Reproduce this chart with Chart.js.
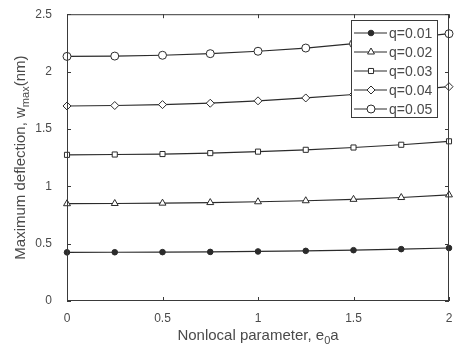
<!DOCTYPE html>
<html>
<head>
<meta charset="utf-8">
<script src="https://cdn.jsdelivr.net/npm/chart.js@4/dist/chart.umd.min.js"></script>
<style>
  html, body { margin: 0; padding: 0; background: #fff; }
  #wrap { width: 455px; height: 351px; }
</style>
</head>
<body>
<div id="wrap"><canvas id="deflectionChart" width="455" height="351"></canvas></div>
<script>
// Nonlocal parameter e0a
const e0a = [0, 0.25, 0.5, 0.75, 1, 1.25, 1.5, 1.75, 2];

// Maximum deflection (nm) for each load q
const q001 = [0.424, 0.425, 0.426, 0.428, 0.432, 0.437, 0.443, 0.452, 0.462];
const q002 = [0.848, 0.850, 0.853, 0.858, 0.865, 0.874, 0.886, 0.902, 0.925];
const q003 = [1.274, 1.277, 1.281, 1.289, 1.302, 1.318, 1.338, 1.362, 1.392];
const q004 = [1.700, 1.704, 1.712, 1.724, 1.745, 1.770, 1.800, 1.832, 1.868];
const q005 = [2.132, 2.135, 2.142, 2.156, 2.177, 2.205, 2.243, 2.285, 2.330];

const seriesLabels = ['q=0.01', 'q=0.02', 'q=0.03', 'q=0.04', 'q=0.05'];
const xTicks = [0, 0.5, 1, 1.5, 2];
const yTicks = [0, 0.5, 1, 1.5, 2, 2.5];

const lineColor = '#2b2b2b';
const textColor = '#4a4a4a';
const fontFamily = '"Liberation Sans", Arial, sans-serif';

const markers = [
  { style: 'circle', radius: 2.8, fill: lineColor },
  { style: 'triangle', radius: 4, fill: '#fff' },
  { style: 'rect', radius: 3.6, fill: '#fff' },
  { style: 'rectRot', radius: 4, fill: '#fff' },
  { style: 'circle', radius: 4, fill: '#fff' }
];

function toPoints(values) {
  return e0a.map((x, i) => ({ x, y: values[i] }));
}

const datasets = [q001, q002, q003, q004, q005].map((vals, i) => ({
  label: seriesLabels[i],
  data: toPoints(vals),
  showLine: true,
  borderColor: lineColor,
  borderWidth: 1.2,
  pointStyle: markers[i].style,
  pointRadius: markers[i].radius,
  pointBackgroundColor: markers[i].fill,
  pointBorderColor: lineColor,
  pointBorderWidth: 1,
  clip: false
}));

// Box frame with inward ticks on all four sides
const framePlugin = {
  id: 'frame',
  afterDatasetsDraw(chart) {
    const { ctx, chartArea: a, scales } = chart;
    ctx.save();
    ctx.strokeStyle = '#3a3a3a';
    ctx.lineWidth = 1;
    ctx.strokeRect(a.left + 0.5, a.top + 0.5, a.right - a.left - 1, a.bottom - a.top - 1);
    ctx.beginPath();
    xTicks.forEach(v => {
      const x = Math.round(scales.x.getPixelForValue(v)) + 0.5;
      ctx.moveTo(x, a.bottom); ctx.lineTo(x, a.bottom - 4);
      ctx.moveTo(x, a.top); ctx.lineTo(x, a.top + 4);
    });
    yTicks.forEach(v => {
      const y = Math.round(scales.y.getPixelForValue(v)) + 0.5;
      ctx.moveTo(a.left, y); ctx.lineTo(a.left + 4, y);
      ctx.moveTo(a.right, y); ctx.lineTo(a.right - 4, y);
    });
    ctx.stroke();
    ctx.restore();
  }
};

// Legend box inside the plot, top right
const boxLegendPlugin = {
  id: 'boxLegend',
  afterDraw(chart) {
    const { ctx } = chart;
    const left = 351, top = 20, w = 86, rowH = 19, h = 97;
    ctx.save();
    ctx.fillStyle = '#fff';
    ctx.fillRect(left, top, w, h);
    ctx.strokeStyle = '#3a3a3a';
    ctx.lineWidth = 1;
    ctx.strokeRect(left + 0.5, top + 0.5, w, h);
    ctx.font = '14px ' + fontFamily;
    ctx.textBaseline = 'middle';
    chart.data.datasets.forEach((ds, i) => {
      const y = top + 13 + i * rowH;
      ctx.strokeStyle = lineColor;
      ctx.lineWidth = 1.2;
      ctx.beginPath();
      ctx.moveTo(354, y); ctx.lineTo(387, y);
      ctx.stroke();
      ctx.fillStyle = ds.pointBackgroundColor;
      ctx.lineWidth = 1;
      Chart.helpers.drawPoint(ctx, {
        pointStyle: ds.pointStyle,
        radius: ds.pointRadius,
        borderWidth: 1,
        rotation: 0
      }, 371, y);
      ctx.fillStyle = textColor;
      ctx.textAlign = 'left';
      ctx.fillText(ds.label, 389, y + 1);
    });
    ctx.restore();
  }
};

// Axis titles with subscripts
const mainSize = 15, subSize = 11;
function drawSubText(ctx, parts, x, y) {
  let cx = x;
  parts.forEach(p => {
    ctx.font = (p.sub ? subSize : mainSize) + 'px ' + fontFamily;
    ctx.fillText(p.t, cx, y + (p.sub ? 5 : 0));
    cx += ctx.measureText(p.t).width;
  });
}
function widthOf(ctx, parts) {
  return parts.reduce((s, p) => {
    ctx.font = (p.sub ? subSize : mainSize) + 'px ' + fontFamily;
    return s + ctx.measureText(p.t).width;
  }, 0);
}
const axisTitlePlugin = {
  id: 'axisTitles',
  afterDraw(chart) {
    const { ctx, chartArea: a } = chart;
    ctx.save();
    ctx.fillStyle = textColor;
    ctx.textBaseline = 'middle';
    ctx.textAlign = 'left';
    const xParts = [{ t: 'Nonlocal parameter, e' }, { t: '0', sub: true }, { t: 'a' }];
    const xw = widthOf(ctx, xParts);
    drawSubText(ctx, xParts, (a.left + a.right) / 2 - xw / 2, 336);
    const yParts = [{ t: 'Maximum deflection, w' }, { t: 'max', sub: true }, { t: '(nm)' }];
    const yw = widthOf(ctx, yParts);
    ctx.translate(21, (a.top + a.bottom) / 2);
    ctx.rotate(-Math.PI / 2);
    drawSubText(ctx, yParts, -yw / 2, 0);
    ctx.restore();
  }
};

new Chart(document.getElementById('deflectionChart'), {
  type: 'scatter',
  data: { datasets },
  options: {
    responsive: false,
    animation: false,
    layout: { padding: { top: 12, right: 6, left: 0, bottom: 0 } },
    plugins: {
      legend: { display: false },
      tooltip: { enabled: false }
    },
    scales: {
      x: {
        type: 'linear',
        min: 0, max: 2,
        afterBuildTicks: s => { s.ticks = xTicks.map(v => ({ value: v })); },
        afterFit: s => { s.height = 50; },
        grid: { display: false },
        border: { display: false },
        ticks: {
          color: textColor,
          padding: 2,
          font: { family: fontFamily, size: 12 },
          callback: v => String(v)
        }
      },
      y: {
        type: 'linear',
        min: 0, max: 2.5,
        afterBuildTicks: s => { s.ticks = yTicks.map(v => ({ value: v })); },
        afterFit: s => { s.width = 67; },
        grid: { display: false },
        border: { display: false },
        ticks: {
          color: textColor,
          padding: 7,
          font: { family: fontFamily, size: 12 },
          callback: v => String(v)
        }
      }
    }
  },
  plugins: [framePlugin, boxLegendPlugin, axisTitlePlugin]
});
</script>
</body>
</html>
